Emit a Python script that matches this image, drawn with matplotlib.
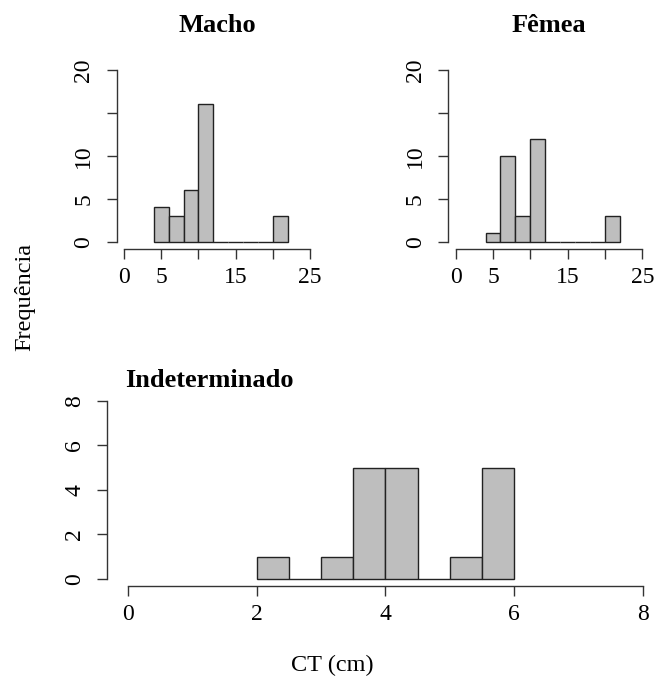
import matplotlib.pyplot as plt
import numpy as np

plt.rcParams['font.family'] = ['Liberation Serif', 'DejaVu Serif']

# histogram counts per bin (left edges, bin width)
macho_left = [4, 6, 8, 10, 12, 14, 16, 18, 20]
macho_counts = [4, 3, 6, 16, 0, 0, 0, 0, 3]
femea_left = [4, 6, 8, 10, 12, 14, 16, 18, 20]
femea_counts = [1, 10, 3, 12, 0, 0, 0, 0, 3]
indet_left = [2.0, 2.5, 3.0, 3.5, 4.0, 4.5, 5.0, 5.5]
indet_counts = [1, 0, 1, 5, 5, 0, 1, 5]

top_xticks = [0, 5, 10, 15, 20, 25]
top_xlabels = ['0', '5', '', '15', '', '25']
top_yticks = [0, 5, 10, 15, 20]
top_ylabels = ['0', '5', '10', '', '20']
bot_xticks = [0, 2, 4, 6, 8]
bot_yticks = [0, 2, 4, 6, 8]

W, H = 658, 684
fig = plt.figure(figsize=(W / 100, H / 100), dpi=100)


def rhist(rect, left, counts, width, xticks, xlabels, yticks, ylabels):
    ax = fig.add_axes(rect)
    ax.bar(left, counts, width=width, align='edge', color='#bebebe',
           edgecolor='#222222', linewidth=1.0)
    x0, x1 = xticks[0], xticks[-1]
    y0, y1 = yticks[0], yticks[-1]
    dx, dy = 0.04 * (x1 - x0), 0.04 * (y1 - y0)
    ax.set_xlim(x0 - dx, x1 + dx)
    ax.set_ylim(y0 - dy, y1 + dy)
    for s in ['top', 'right']:
        ax.spines[s].set_visible(False)
    ax.spines['bottom'].set_bounds(x0, x1)
    ax.spines['left'].set_bounds(y0, y1)
    for s in ['bottom', 'left']:
        ax.spines[s].set_color('#333333')
        ax.spines[s].set_linewidth(1.0)
    ax.set_xticks(xticks)
    ax.set_xticklabels(xlabels)
    ax.set_yticks(yticks)
    ax.set_yticklabels(ylabels, rotation=90, va='center')
    ax.tick_params(length=7, width=1.0, color='#333333', labelsize=17)
    ax.tick_params(axis='x', pad=6)
    ax.tick_params(axis='y', pad=9)
    ax.patch.set_alpha(0)
    return ax


rhist([0.1772, 0.6365, 0.3052, 0.2713], macho_left, macho_counts, 2,
      top_xticks, top_xlabels, top_yticks, top_ylabels)
rhist([0.6812, 0.6365, 0.3064, 0.2713], femea_left, femea_counts, 2,
      top_xticks, top_xlabels, top_yticks, top_ylabels)
rhist([0.1632, 0.1430, 0.8453, 0.2816], indet_left, indet_counts, 0.5,
      bot_xticks, [str(t) for t in bot_xticks], bot_yticks, [str(t) for t in bot_yticks])

fig.text(217 / W, 1 - 25 / H, 'Macho', ha='center', va='center',
         fontsize=19, fontweight='bold')
fig.text(549 / W, 1 - 25 / H, 'Fêmea', ha='center', va='center',
         fontsize=19, fontweight='bold')
fig.text(125 / W, 1 - 381 / H, 'Indeterminado', ha='left', va='center',
         fontsize=19, fontweight='bold')
fig.text(25 / W, 1 - 297 / H, 'Frequência', ha='center', va='center',
         rotation=90, fontsize=17.5)
fig.text(332 / W, 1 - 665 / H, 'CT (cm)', ha='center', va='center', fontsize=17.5)

fig.savefig('out.png', dpi=100)
